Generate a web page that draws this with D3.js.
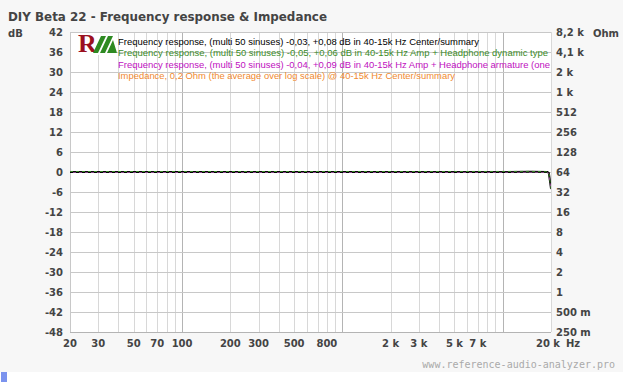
<!DOCTYPE html>
<html><head><meta charset="utf-8">
<script src="https://cdn.jsdelivr.net/npm/d3@7"></script>
<style>body{margin:0;background:#fff;}svg{display:block;}</style>
</head><body>
<svg id="c" width="623" height="382"></svg>
<script>
const title = "DIY Beta 22 - Frequency response & Impedance";
const dbTicks = [42,36,30,24,18,12,6,0,-6,-12,-18,-24,-30,-36,-42,-48];
const ohmTicks = ["8,2 k","4,1 k","2 k","1 k","512","256","128","64","32","16","8","4","2","1","500 m","250 m"];
const freqLabels = [[20,"20"],[30,"30"],[50,"50"],[70,"70"],[100,"100"],[200,"200"],[300,"300"],[500,"500"],[800,"800"],[2000,"2 k"],[3000,"3 k"],[5000,"5 k"],[7000,"7 k"],[20000,"20 k"]];
const legendTexts = [
  "Frequency response, (multi 50 sinuses) -0,03, +0,08 dB in 40-15k Hz  Center/summary",
  "Frequency response, (multi 50 sinuses) -0,05, +0,06 dB in 40-15k Hz Amp + Headphone dynamic type",
  "Frequency response, (multi 50 sinuses) -0,04, +0,09 dB in 40-15k Hz Amp + Headphone armature (one",
  "Impedance, 0,2 Ohm (the average over log scale) @ 40-15k Hz  Center/summary"
];
const legendColors = ["#000000","#3c8c28","#c010c0","#f08a30"];
const legendLengths = [361, 430, 432, 337];
const freqs = [20,30,50,100,200,500,1000,2000,5000,10000,15000,19000,19400,20000];
const frBlack = [0.02,0.01,0.0,0.0,0.01,0.0,0.0,0.01,0.02,0.03,0.05,0.0,-0.3,-5.0];
const frGreen = [0.01,0.0,0.0,0.01,0.0,0.0,0.01,0.0,0.01,0.02,0.04,-0.1,-0.4,-5.2];
const frPurple = [0.03,0.02,0.01,0.0,0.01,0.01,0.0,0.02,0.03,0.05,0.07,0.0,-0.3,-5.1];

const svg = d3.select("#c");
svg.append("rect").attr("x",0).attr("y",0).attr("width",623).attr("height",372).attr("fill","#f7f7f7");
svg.append("rect").attr("x",1).attr("y",372).attr("width",6).attr("height",10).attr("fill","#7b93ee");

const L=70,R=551,T=32,B=332;
const x = d3.scaleLog().domain([20,20000]).range([L,R]);
const y = d3.scaleLinear().domain([-48,42]).range([B,T]);

svg.append("rect").attr("x",L).attr("y",T).attr("width",R-L).attr("height",B-T).attr("fill","#fff");

// vertical grid
const vg=[];
for (let d=10; d<=10000; d*=10) for (let m=1;m<=9;m++){ const f=d*m; if(f>=20&&f<=20000) vg.push(f); }
svg.append("g").selectAll("line").data(vg).join("line")
  .attr("x1",d=>Math.round(x(d))+0.5).attr("x2",d=>Math.round(x(d))+0.5)
  .attr("y1",T).attr("y2",B)
  .attr("stroke",d=>(d===100||d===1000||d===10000)?"#b4b4b4":"#d8d8d8").attr("stroke-width",1);
// horizontal grid
svg.append("g").selectAll("line").data(dbTicks).join("line")
  .attr("x1",L).attr("x2",R).attr("y1",d=>Math.round(y(d))+0.5).attr("y2",d=>Math.round(y(d))+0.5)
  .attr("stroke","#c8c8c8");
svg.append("line").attr("x1",L+0.5).attr("x2",L+0.5).attr("y1",T).attr("y2",B).attr("stroke","#c8c8c8");
svg.append("line").attr("x1",L).attr("x2",R).attr("y1",B+0.5).attr("y2",B+0.5).attr("stroke","#b4b4b4");

// logo area
svg.append("rect").attr("x",L+1).attr("y",T+1).attr("width",46).attr("height",22).attr("fill","#fff");
const logo = svg.append("g");
logo.append("text").attr("x",78).attr("y",52).attr("font-family","Liberation Serif, serif").attr("font-weight","bold")
  .attr("font-size",26).attr("fill","#9b1020").text("R");
logo.append("path").attr("d","M93,53 L101,36 L106,36 L98,53 Z M100,53 L108,36 L113,36 L105,53 Z M107,53 L113,40 L117,53 Z").attr("fill","#2e8a22");

svg.append("clipPath").attr("id","pc").append("rect").attr("x",L).attr("y",T).attr("width",R-L).attr("height",B-T);
const lg = svg.append("g").attr("clip-path","url(#pc)");
legendTexts.forEach((t,i)=>{
  lg.append("text").attr("x",118).attr("y",45+i*11.3).attr("font-family","Liberation Sans, Arial, sans-serif")
    .attr("font-size",9.4).attr("fill",legendColors[i])
    .attr("textLength",legendLengths[i]).attr("lengthAdjust","spacingAndGlyphs").text(t);
});

// curves
const line = d3.line().x((d,i)=>x(freqs[i])).y(d=>y(d));
const cg = svg.append("g").attr("clip-path","url(#pc)");
cg.append("path").attr("d",line(frBlack)).attr("fill","none").attr("stroke","#000").attr("stroke-width",2);
cg.append("path").attr("d",line(frGreen)).attr("fill","none").attr("stroke","#3c8c28").attr("stroke-width",1).attr("stroke-dasharray","3,3").attr("transform","translate(0,-0.5)");
cg.append("path").attr("d",line(frPurple)).attr("fill","none").attr("stroke","#8a4a8a").attr("stroke-width",1).attr("stroke-dasharray","3,3").attr("stroke-dashoffset",3).attr("transform","translate(0,0.5)");

// text
const fontB = "DejaVu Sans, Verdana, sans-serif";
svg.append("text").attr("x",8).attr("y",21).attr("font-family",fontB).attr("font-weight","bold").attr("font-size",13)
  .attr("textLength",319).attr("lengthAdjust","spacingAndGlyphs").attr("fill","#444").text(title);
svg.append("text").attr("x",8).attr("y",37).attr("font-family",fontB).attr("font-weight","bold").attr("font-size",10).attr("fill","#444").text("dB");
svg.append("text").attr("x",593).attr("y",37).attr("font-family",fontB).attr("font-weight","bold").attr("font-size",10).attr("fill","#444").text("Ohm");

svg.append("g").selectAll("text").data(dbTicks).join("text")
  .attr("x",63).attr("y",d=>y(d)+4).attr("text-anchor","end")
  .attr("font-family",fontB).attr("font-weight","bold").attr("font-size",10).attr("fill","#444").text(d=>d);
svg.append("g").selectAll("text").data(ohmTicks).join("text")
  .attr("x",556).attr("y",(d,i)=>y(dbTicks[i])+4)
  .attr("font-family",fontB).attr("font-weight","bold").attr("font-size",10).attr("fill","#444").text(d=>d);
svg.append("g").selectAll("text").data(freqLabels).join("text")
  .attr("x",d=>x(d[0])-(d[0]===20000?3:0)).attr("y",347).attr("text-anchor","middle")
  .attr("font-family",fontB).attr("font-weight","bold").attr("font-size",10).attr("fill","#444").text(d=>d[1]);
svg.append("text").attr("x",566).attr("y",347).attr("font-family",fontB).attr("font-weight","bold").attr("font-size",10).attr("fill","#444").text("Hz");
svg.append("text").attr("x",615).attr("y",368).attr("text-anchor","end").attr("font-family","DejaVu Sans Mono, monospace")
  .attr("font-size",10).attr("fill","#aaa").text("www.reference-audio-analyzer.pro");
</script>
</body></html>
